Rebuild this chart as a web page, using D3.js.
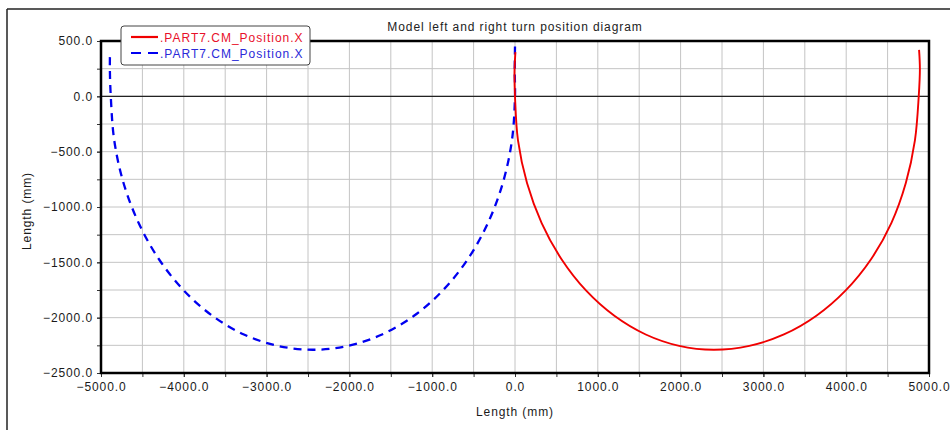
<!DOCTYPE html>
<html>
<head>
<meta charset="utf-8">
<script src="https://cdn.jsdelivr.net/npm/d3@7/dist/d3.min.js"></script>
<style>
  html, body { margin: 0; padding: 0; background: #fff; }
  svg { display: block; font-family: "Liberation Sans", Arial, sans-serif; }
</style>
</head>
<body>
<svg id="chart" width="950" height="430"></svg>
<script>
// Right turn trajectory (red, solid): X and Y positions in mm
const rightX = [5, -6, 0, 36, 145, 322, 562, 857, 1200, 1579, 1983, 2400,
  2830, 3248, 3640, 3994, 4300, 4545, 4720, 4830, 4876, 4890, 4880];
const rightY = [400, 220, 0, -398, -783, -1145, -1472, -1754, -1983, -2152, -2255, -2290,
  -2255, -2152, -1983, -1754, -1472, -1145, -783, -398, 0, 250, 420];

// Left turn trajectory (blue, dashed): X and Y positions in mm
const leftX = [0, -3, 0, -37, -147, -327, -571, -872, -1220, -1606, -2016, -2440,
  -2864, -3274, -3655, -4000, -4300, -4545, -4728, -4840, -4882, -4893, -4891];
const leftY = [450, 220, 0, -398, -783, -1145, -1472, -1754, -1983, -2152, -2255, -2290,
  -2255, -2152, -1983, -1754, -1472, -1145, -783, -398, 0, 250, 410];

const seriesNames = [".PART7.CM_Position.X", ".PART7.CM_Position.X"];
const xTickValues = [-5000, -4000, -3000, -2000, -1000, 0, 1000, 2000, 3000, 4000, 5000];
const yTickValues = [500, 0, -500, -1000, -1500, -2000, -2500];
const titleText = "Model left and right turn position diagram";
const xTitle = "Length (mm)";
const yTitle = "Length (mm)";

const svg = d3.select("#chart");
const plot = { left: 101, right: 929, top: 41, bottom: 373 };

const x = d3.scaleLinear().domain([-5000, 5000]).range([plot.left, plot.right]);
const y = d3.scaleLinear().domain([-2500, 500]).range([plot.bottom, plot.top]);
const fmt = d3.format(".1f");

// outer panel frame
svg.append("line").attr("x1", 7).attr("x2", 950).attr("y1", 9).attr("y2", 9)
  .attr("stroke", "#222").attr("stroke-width", 1.5);
svg.append("line").attr("x1", 7).attr("x2", 7).attr("y1", 9).attr("y2", 430)
  .attr("stroke", "#222").attr("stroke-width", 1.5);

// title
svg.append("text").attr("x", 515).attr("y", 31).attr("text-anchor", "middle")
  .attr("font-size", 12).attr("letter-spacing", 0.9).attr("fill", "#222").text(titleText);

// grid
const xGrid = d3.range(-5000, 5001, 500);
const yGrid = d3.range(-2500, 501, 250);
svg.append("g").selectAll("line").data(xGrid).join("line")
  .attr("x1", d => x(d)).attr("x2", d => x(d)).attr("y1", plot.top).attr("y2", plot.bottom)
  .attr("stroke", "#c4c4c4").attr("stroke-width", 1);
svg.append("g").selectAll("line").data(yGrid).join("line")
  .attr("x1", plot.left).attr("x2", plot.right).attr("y1", d => y(d)).attr("y2", d => y(d))
  .attr("stroke", "#c4c4c4").attr("stroke-width", 1);

// zero line
svg.append("line").attr("x1", plot.left).attr("x2", plot.right).attr("y1", y(0)).attr("y2", y(0))
  .attr("stroke", "#222").attr("stroke-width", 1.3);

// minor ticks
svg.append("g").attr("transform", `translate(0,${plot.bottom})`)
  .call(d3.axisBottom(x).tickValues(xGrid).tickSize(4).tickFormat(""))
  .call(g => g.select(".domain").remove())
  .call(g => g.selectAll("line").attr("stroke", "#333"));
svg.append("g").attr("transform", `translate(${plot.left},0)`)
  .call(d3.axisLeft(y).tickValues(yGrid).tickSize(4).tickFormat(""))
  .call(g => g.select(".domain").remove())
  .call(g => g.selectAll("line").attr("stroke", "#333"));

// labelled axes
const xAxis = svg.append("g").attr("transform", `translate(0,${plot.bottom})`)
  .call(d3.axisBottom(x).tickValues(xTickValues).tickSize(4).tickPadding(5).tickFormat(fmt));
const yAxis = svg.append("g").attr("transform", `translate(${plot.left},0)`)
  .call(d3.axisLeft(y).tickValues(yTickValues).tickSize(4).tickPadding(4).tickFormat(fmt));
[xAxis, yAxis].forEach(g => {
  g.select(".domain").remove();
  g.selectAll("line").attr("stroke", "#333");
  g.selectAll("text").attr("font-family", "Liberation Sans, Arial, sans-serif")
    .attr("font-size", 12).attr("letter-spacing", 0.9).attr("fill", "#1a1a1a");
});

// trajectories
const line = d3.line().x(d => x(d[0])).y(d => y(d[1])).curve(d3.curveCatmullRom.alpha(0.5));
const rightPts = rightX.map((v, i) => [v, rightY[i]]);
const leftPts = leftX.map((v, i) => [v, leftY[i]]);

svg.append("path").datum(leftPts).attr("d", line).attr("fill", "none")
  .attr("stroke", "#0000f0").attr("stroke-width", 2.3).attr("stroke-dasharray", "8,6");
svg.append("path").datum(rightPts).attr("d", line).attr("fill", "none")
  .attr("stroke", "#f00000").attr("stroke-width", 1.9);

// plot frame
svg.append("rect").attr("x", plot.left).attr("y", plot.top)
  .attr("width", plot.right - plot.left).attr("height", plot.bottom - plot.top)
  .attr("fill", "none").attr("stroke", "#000").attr("stroke-width", 2.5);

// axis titles
svg.append("text").attr("x", 515).attr("y", 416).attr("text-anchor", "middle")
  .attr("font-size", 12).attr("letter-spacing", 0.9).attr("fill", "#1a1a1a").text(xTitle);
svg.append("text").attr("transform", "translate(31,211) rotate(-90)").attr("text-anchor", "middle")
  .attr("font-size", 12).attr("letter-spacing", 0.9).attr("fill", "#1a1a1a").text(yTitle);

// legend
const legend = svg.append("g");
legend.append("rect").attr("x", 121).attr("y", 26).attr("width", 189).attr("height", 39)
  .attr("rx", 3).attr("fill", "#fff").attr("stroke", "#444").attr("stroke-width", 1);
const legendColors = ["#f00000", "#0000f0"];
const legendText = ["#e8102a", "#2a2ad8"];
seriesNames.forEach((name, i) => {
  const yy = 37 + i * 16;
  legend.append("line").attr("x1", 131).attr("x2", 158).attr("y1", yy).attr("y2", yy)
    .attr("stroke", legendColors[i]).attr("stroke-width", 2.2)
    .attr("stroke-dasharray", i === 1 ? "10,7" : null);
  legend.append("text").attr("x", 160).attr("y", yy + 4.5)
    .attr("font-size", 12).attr("letter-spacing", 1.0).attr("fill", legendText[i]).text(name);
});
</script>
</body>
</html>
